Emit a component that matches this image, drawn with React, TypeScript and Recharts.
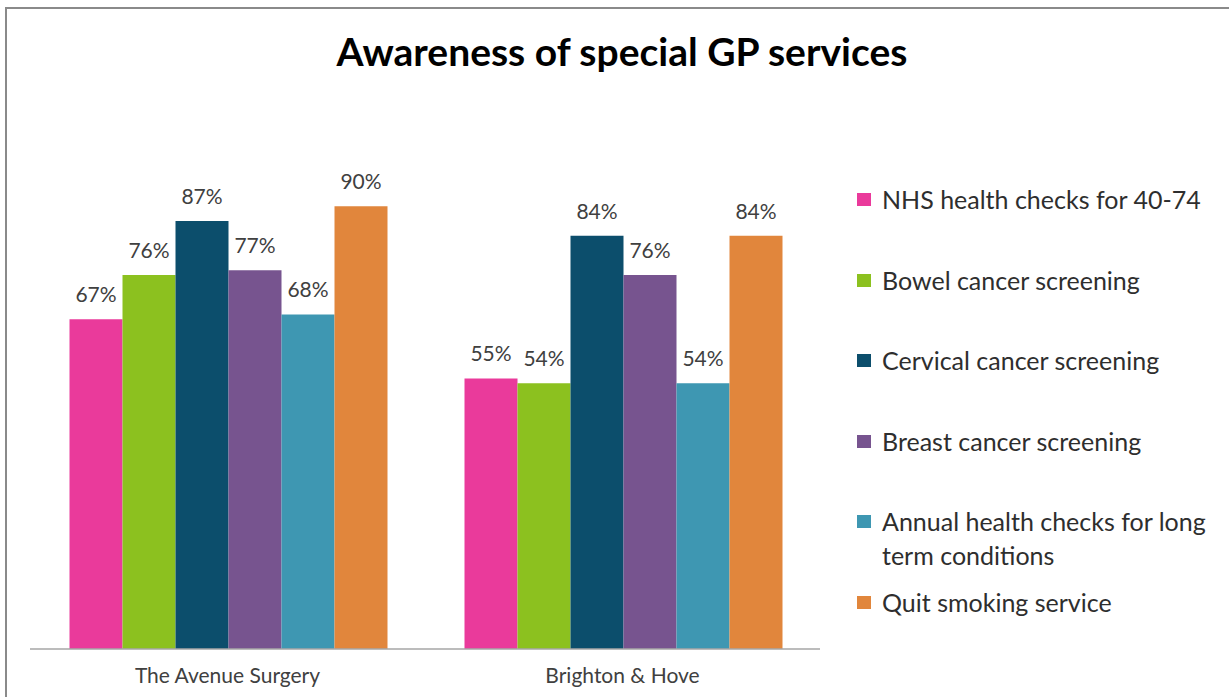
import { BarChart, Bar, XAxis, YAxis, Legend, LabelList } from 'recharts';

const categories = ['The Avenue Surgery', 'Brighton & Hove'];

const seriesNames = [
  'NHS health checks for 40-74',
  'Bowel cancer screening',
  'Cervical cancer screening',
  'Breast cancer screening',
  'Annual health checks for long term conditions',
  'Quit smoking service',
];

const seriesKeys = ['nhs', 'bowel', 'cervical', 'breast', 'annual', 'quit'];

const nhsValues = [67, 55];
const bowelValues = [76, 54];
const cervicalValues = [87, 84];
const breastValues = [77, 76];
const annualValues = [68, 54];
const quitValues = [90, 84];

const colors = ['#EA3A9B', '#8CC11F', '#0C4E6C', '#77548F', '#3E97B2', '#E1863C'];

const valueTable = [nhsValues, bowelValues, cervicalValues, breastValues, annualValues, quitValues];

const data = categories.map((name, i) => {
  const row: any = { name };
  seriesKeys.forEach((k, s) => {
    row[k] = valueTable[s][i];
  });
  return row;
});

const FONT = 'Lato, "Open Sans", sans-serif';

const CustomLegend = () => (
  <div style={{ fontFamily: FONT, fontSize: 25, color: '#2e2e2e', textAlign: 'left' }}>
    {seriesNames.map((name, i) => (
      <div key={name} style={{ display: 'flex', alignItems: 'flex-start', height: 80.6 }}>
        <div
          style={{
            width: 14,
            height: 13,
            marginTop: 11,
            marginRight: 11,
            backgroundColor: colors[i],
            flexShrink: 0,
          }}
        />
        <div style={{ lineHeight: '34px', width: 335 }}>{name}</div>
      </div>
    ))}
  </div>
);

const App = () => {
  return (
    <div style={{ position: 'absolute', left: 0, top: 0, width: 1229, height: 697, background: '#fff', overflow: 'hidden' }}>
      <div
        style={{
          position: 'absolute',
          left: 5,
          top: 7,
          width: 1240,
          height: 720,
          borderTop: '2px solid #8a8a8a',
          borderLeft: '2px solid #8a8a8a',
        }}
      />
      <div
        style={{
          position: 'absolute',
          left: 0,
          top: 28,
          width: 1244,
          textAlign: 'center',
          fontFamily: FONT,
          fontWeight: 700,
          fontSize: 39,
          color: '#000',
        }}
      >
        Awareness of special GP services
      </div>
      <div style={{ position: 'absolute', left: 0, top: 0 }}>
        <BarChart
          width={1229}
          height={697}
          data={data}
          margin={{ top: 157, right: 409, left: 30, bottom: 8 }}
          barCategoryGap="10%"
          barGap={0}
        >
          <XAxis
            xAxisId="ticks"
            type="number"
            domain={[0, 2]}
            ticks={[0, 1, 2]}
            axisLine={false}
            tick={{ fill: 'transparent', fontSize: 1 }}
            tickLine={{ stroke: '#a6a6a6', strokeWidth: 1.5 }}
            tickSize={6}
            height={0}
          />
          <XAxis
            xAxisId="cat"
            dataKey="name"
            axisLine={{ stroke: '#a6a6a6', strokeWidth: 1.5 }}
            tickLine={false}
            tickSize={0}
            tickMargin={19}
            height={40}
            tick={{ fill: '#404040', fontSize: 21, fontFamily: FONT }}
          />
          <YAxis hide domain={[0, 100]} />
          <Legend
            layout="horizontal"
            verticalAlign="middle"
            align="center"
            content={<CustomLegend />}
            wrapperStyle={{ position: 'absolute', left: 857, top: 182, width: 372 }}
          />
          {seriesKeys.map((key, i) => (
            <Bar
              key={key}
              dataKey={key}
              xAxisId="cat"
              name={seriesNames[i]}
              fill={colors[i]}
              isAnimationActive={false}
            >
              <LabelList
                dataKey={key}
                position="top"
                offset={17}
                formatter={(v: any) => `${v}%`}
                style={{ fill: '#404040', fontSize: 21, fontFamily: FONT }}
              />
            </Bar>
          ))}
        </BarChart>
      </div>
    </div>
  );
};

export default App;
